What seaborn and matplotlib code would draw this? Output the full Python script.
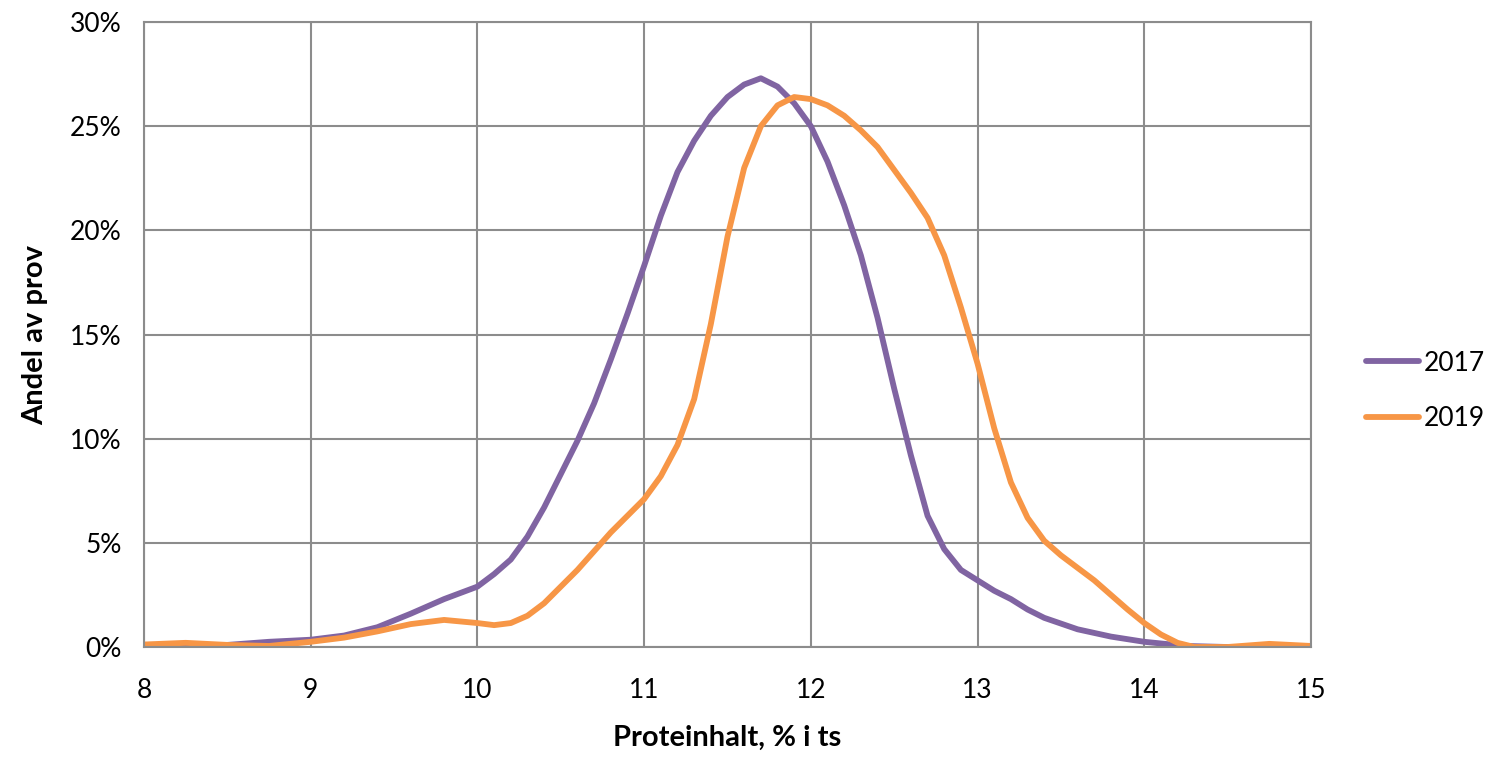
import pandas as pd
import matplotlib.pyplot as plt
import seaborn as sns
from matplotlib.ticker import PercentFormatter

# Proteinhalt (% i ts) and share of samples (%)
x_2017 = [8.0, 8.25, 8.5, 8.75, 9.0, 9.2, 9.4, 9.6, 9.8, 10.0, 10.1, 10.2, 10.3, 10.4,
          10.5, 10.6, 10.7, 10.8, 10.9, 11.0, 11.1, 11.2, 11.3, 11.4, 11.5, 11.6, 11.7,
          11.8, 11.9, 12.0, 12.1, 12.2, 12.3, 12.4, 12.5, 12.6, 12.7, 12.8, 12.9, 13.0,
          13.1, 13.2, 13.3, 13.4, 13.6, 13.8, 14.0, 14.25, 14.5, 14.75, 15.0]
y_2017 = [0.0, 0.0, 0.1, 0.25, 0.35, 0.55, 0.95, 1.6, 2.3, 2.9, 3.5, 4.2, 5.3, 6.7,
          8.3, 9.9, 11.7, 13.8, 16.0, 18.3, 20.7, 22.8, 24.3, 25.5, 26.4, 27.0, 27.3,
          26.9, 26.1, 25.0, 23.3, 21.2, 18.8, 15.8, 12.4, 9.2, 6.3, 4.7, 3.7, 3.2,
          2.7, 2.3, 1.8, 1.4, 0.85, 0.5, 0.25, 0.05, 0.0, 0.0, 0.0]

x_2019 = [8.0, 8.25, 8.5, 8.75, 9.0, 9.2, 9.4, 9.6, 9.8, 10.0, 10.1, 10.2, 10.3, 10.4,
          10.5, 10.6, 10.7, 10.8, 10.9, 11.0, 11.1, 11.2, 11.3, 11.4, 11.5, 11.6, 11.7,
          11.8, 11.9, 12.0, 12.1, 12.2, 12.3, 12.4, 12.5, 12.6, 12.7, 12.8, 12.9, 13.0,
          13.1, 13.2, 13.3, 13.4, 13.5, 13.6, 13.7, 13.8, 13.9, 14.0, 14.1, 14.2, 14.3,
          14.5, 14.75, 15.0]
y_2019 = [0.12, 0.2, 0.1, 0.05, 0.25, 0.45, 0.75, 1.1, 1.3, 1.15, 1.05, 1.15, 1.5, 2.1,
          2.9, 3.7, 4.6, 5.5, 6.3, 7.1, 8.2, 9.7, 11.9, 15.5, 19.7, 23.0, 25.0,
          26.0, 26.4, 26.3, 26.0, 25.5, 24.8, 24.0, 22.9, 21.8, 20.6, 18.8, 16.3, 13.6,
          10.5, 7.9, 6.2, 5.1, 4.4, 3.8, 3.2, 2.5, 1.8, 1.15, 0.6, 0.2, 0.0,
          0.0, 0.15, 0.05]

df = pd.concat([
    pd.DataFrame({"Protein": x_2017, "Andel": y_2017, "År": "2017"}),
    pd.DataFrame({"Protein": x_2019, "Andel": y_2019, "År": "2019"}),
])

sns.set_style("white")
plt.rcParams["font.family"] = ["Lato", "DejaVu Sans"]
plt.rcParams["text.color"] = "black"
plt.rcParams["xtick.color"] = "black"
plt.rcParams["ytick.color"] = "black"
plt.rcParams["axes.labelcolor"] = "black"

fig = plt.figure(figsize=(14.94, 7.57), dpi=100)
ax = fig.add_axes([0.0964, 0.1453, 0.7811, 0.8256])

sns.lineplot(data=df, x="Protein", y="Andel", hue="År",
             palette={"2017": "#8064A2", "2019": "#F79646"},
             linewidth=4.2, ax=ax, sort=False,
             solid_joinstyle="round", solid_capstyle="round")

ax.set_xlim(8, 15)
ax.set_ylim(0, 30)
ax.set_xticks(range(8, 16))
ax.set_yticks(range(0, 31, 5))
ax.yaxis.set_major_formatter(PercentFormatter(decimals=0))
ax.grid(True, color="#8c8c8c", linewidth=1.5)
ax.set_axisbelow(True)
for s in ax.spines.values():
    s.set_color("#8c8c8c")
    s.set_linewidth(1.5)
ax.tick_params(axis="x", length=8, width=1.5, color="#8c8c8c", labelsize=19, pad=14)
ax.tick_params(axis="y", length=0, labelsize=19, pad=16)

ax.set_xlabel("Proteinhalt, % i ts", fontsize=21, fontweight="bold", labelpad=16)
ax.set_ylabel("Andel av prov", fontsize=21, fontweight="bold", labelpad=16)

ax.legend(frameon=False, fontsize=19, loc="center left", bbox_to_anchor=(1.047, 0.41),
          borderaxespad=0, borderpad=0, handlelength=2.0, handletextpad=0.2,
          labelspacing=1.15, title=None)

fig.savefig("out.png", dpi=100)
